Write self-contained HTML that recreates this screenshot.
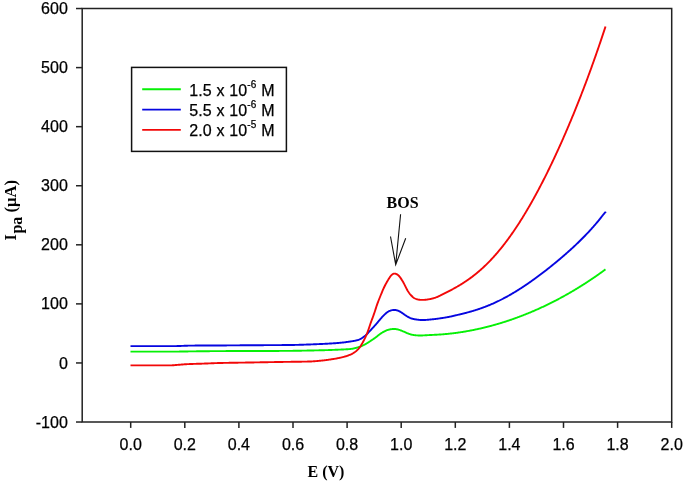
<!DOCTYPE html>
<html><head><meta charset="utf-8"><style>
html,body{margin:0;padding:0;background:#fff;}
svg{display:block;will-change:transform;}
.t{font-family:"Liberation Sans",sans-serif;font-size:16px;fill:#000;stroke:#000;stroke-width:0.25px;}
.sup{font-size:10px;}
.b{font-family:"Liberation Serif",serif;font-weight:bold;font-size:16px;fill:#000;}
</style></head><body>
<svg width="685" height="487" viewBox="0 0 685 487">
<path d="M82.2,8.6 H671.7 V422.0 H82.2 Z" fill="none" stroke="#222" stroke-width="1.5"/>
<line x1="76" y1="422.02" x2="82.2" y2="422.02" stroke="#222" stroke-width="1.5"/>
<text x="67.8" y="427.62" text-anchor="end" class="t">-100</text>
<line x1="76" y1="362.95" x2="82.2" y2="362.95" stroke="#222" stroke-width="1.5"/>
<text x="67.8" y="368.55" text-anchor="end" class="t">0</text>
<line x1="76" y1="303.88" x2="82.2" y2="303.88" stroke="#222" stroke-width="1.5"/>
<text x="67.8" y="309.48" text-anchor="end" class="t">100</text>
<line x1="76" y1="244.81" x2="82.2" y2="244.81" stroke="#222" stroke-width="1.5"/>
<text x="67.8" y="250.41" text-anchor="end" class="t">200</text>
<line x1="76" y1="185.74" x2="82.2" y2="185.74" stroke="#222" stroke-width="1.5"/>
<text x="67.8" y="191.34" text-anchor="end" class="t">300</text>
<line x1="76" y1="126.67" x2="82.2" y2="126.67" stroke="#222" stroke-width="1.5"/>
<text x="67.8" y="132.27" text-anchor="end" class="t">400</text>
<line x1="76" y1="67.60" x2="82.2" y2="67.60" stroke="#222" stroke-width="1.5"/>
<text x="67.8" y="73.20" text-anchor="end" class="t">500</text>
<line x1="76" y1="8.53" x2="82.2" y2="8.53" stroke="#222" stroke-width="1.5"/>
<text x="67.8" y="14.13" text-anchor="end" class="t">600</text>
<line x1="130.70" y1="422.0" x2="130.70" y2="427.9" stroke="#222" stroke-width="1.5"/>
<text x="130.70" y="450.2" text-anchor="middle" class="t">0.0</text>
<line x1="184.80" y1="422.0" x2="184.80" y2="427.9" stroke="#222" stroke-width="1.5"/>
<text x="184.80" y="450.2" text-anchor="middle" class="t">0.2</text>
<line x1="238.90" y1="422.0" x2="238.90" y2="427.9" stroke="#222" stroke-width="1.5"/>
<text x="238.90" y="450.2" text-anchor="middle" class="t">0.4</text>
<line x1="293.00" y1="422.0" x2="293.00" y2="427.9" stroke="#222" stroke-width="1.5"/>
<text x="293.00" y="450.2" text-anchor="middle" class="t">0.6</text>
<line x1="347.10" y1="422.0" x2="347.10" y2="427.9" stroke="#222" stroke-width="1.5"/>
<text x="347.10" y="450.2" text-anchor="middle" class="t">0.8</text>
<line x1="401.20" y1="422.0" x2="401.20" y2="427.9" stroke="#222" stroke-width="1.5"/>
<text x="401.20" y="450.2" text-anchor="middle" class="t">1.0</text>
<line x1="455.30" y1="422.0" x2="455.30" y2="427.9" stroke="#222" stroke-width="1.5"/>
<text x="455.30" y="450.2" text-anchor="middle" class="t">1.2</text>
<line x1="509.40" y1="422.0" x2="509.40" y2="427.9" stroke="#222" stroke-width="1.5"/>
<text x="509.40" y="450.2" text-anchor="middle" class="t">1.4</text>
<line x1="563.50" y1="422.0" x2="563.50" y2="427.9" stroke="#222" stroke-width="1.5"/>
<text x="563.50" y="450.2" text-anchor="middle" class="t">1.6</text>
<line x1="617.60" y1="422.0" x2="617.60" y2="427.9" stroke="#222" stroke-width="1.5"/>
<text x="617.60" y="450.2" text-anchor="middle" class="t">1.8</text>
<line x1="671.70" y1="422.0" x2="671.70" y2="427.9" stroke="#222" stroke-width="1.5"/>
<text x="671.70" y="450.2" text-anchor="middle" class="t">2.0</text>
<path d="M130.5,351.60L131.0,351.60L131.5,351.60L132.0,351.60L132.5,351.60L133.0,351.60L133.5,351.60L134.0,351.60L134.5,351.60L135.0,351.60L135.5,351.60L136.0,351.60L136.5,351.60L137.0,351.60L137.5,351.60L138.0,351.60L138.5,351.60L139.0,351.60L139.5,351.60L140.0,351.60L140.5,351.60L141.0,351.60L141.5,351.60L142.0,351.60L142.5,351.60L143.0,351.60L143.5,351.60L144.0,351.60L144.5,351.60L145.0,351.60L145.5,351.60L146.0,351.60L146.5,351.60L147.0,351.60L147.5,351.60L148.0,351.60L148.5,351.60L149.0,351.60L149.5,351.60L150.0,351.60L150.5,351.60L151.0,351.60L151.5,351.60L152.0,351.60L152.5,351.60L153.0,351.60L153.5,351.60L154.0,351.60L154.5,351.60L155.0,351.60L155.5,351.60L156.0,351.60L156.5,351.60L157.0,351.60L157.5,351.60L158.0,351.60L158.5,351.60L159.0,351.60L159.5,351.60L160.0,351.60L160.5,351.60L161.0,351.60L161.5,351.60L162.0,351.60L162.5,351.60L163.0,351.60L163.5,351.60L164.0,351.60L164.5,351.60L165.0,351.60L165.5,351.60L166.0,351.60L166.5,351.60L167.0,351.60L167.5,351.60L168.0,351.60L168.5,351.60L169.0,351.60L169.5,351.60L170.0,351.60L170.5,351.60L171.0,351.60L171.5,351.60L172.0,351.60L172.5,351.60L173.0,351.60L173.5,351.60L174.0,351.60L174.5,351.60L175.0,351.60L175.5,351.60L176.0,351.60L176.5,351.60L177.0,351.59L177.5,351.59L178.0,351.59L178.5,351.58L179.0,351.58L179.5,351.57L180.0,351.57L180.5,351.56L181.0,351.55L181.5,351.55L182.0,351.54L182.5,351.53L183.0,351.52L183.5,351.51L184.0,351.50L184.5,351.49L185.0,351.48L185.5,351.47L186.0,351.46L186.5,351.46L187.0,351.45L187.5,351.44L188.0,351.43L188.5,351.42L189.0,351.42L189.5,351.41L190.0,351.40L190.5,351.39L191.0,351.39L191.5,351.38L192.0,351.38L192.5,351.37L193.0,351.36L193.5,351.36L194.0,351.35L194.5,351.35L195.0,351.34L195.5,351.33L196.0,351.33L196.5,351.32L197.0,351.32L197.5,351.31L198.0,351.30L198.5,351.30L199.0,351.29L199.5,351.29L200.0,351.28L200.5,351.27L201.0,351.27L201.5,351.26L202.0,351.26L202.5,351.25L203.0,351.25L203.5,351.24L204.0,351.23L204.5,351.23L205.0,351.22L205.5,351.22L206.0,351.21L206.5,351.21L207.0,351.20L207.5,351.20L208.0,351.19L208.5,351.19L209.0,351.18L209.5,351.18L210.0,351.17L210.5,351.17L211.0,351.16L211.5,351.16L212.0,351.16L212.5,351.15L213.0,351.15L213.5,351.14L214.0,351.14L214.5,351.14L215.0,351.13L215.5,351.13L216.0,351.12L216.5,351.12L217.0,351.12L217.5,351.11L218.0,351.11L218.5,351.11L219.0,351.11L219.5,351.10L220.0,351.10L220.5,351.10L221.0,351.10L221.5,351.09L222.0,351.09L222.5,351.09L223.0,351.09L223.5,351.08L224.0,351.08L224.5,351.08L225.0,351.08L225.5,351.08L226.0,351.07L226.5,351.07L227.0,351.07L227.5,351.07L228.0,351.07L228.5,351.06L229.0,351.06L229.5,351.06L230.0,351.06L230.5,351.06L231.0,351.06L231.5,351.05L232.0,351.05L232.5,351.05L233.0,351.05L233.5,351.05L234.0,351.05L234.5,351.04L235.0,351.04L235.5,351.04L236.0,351.04L236.5,351.04L237.0,351.04L237.5,351.04L238.0,351.03L238.5,351.03L239.0,351.03L239.5,351.03L240.0,351.03L240.5,351.03L241.0,351.03L241.5,351.02L242.0,351.02L242.5,351.02L243.0,351.02L243.5,351.02L244.0,351.02L244.5,351.02L245.0,351.01L245.5,351.01L246.0,351.01L246.5,351.01L247.0,351.01L247.5,351.01L248.0,351.01L248.5,351.00L249.0,351.00L249.5,351.00L250.0,351.00L250.5,351.00L251.0,351.00L251.5,351.00L252.0,350.99L252.5,350.99L253.0,350.99L253.5,350.99L254.0,350.99L254.5,350.99L255.0,350.99L255.5,350.99L256.0,350.98L256.5,350.98L257.0,350.98L257.5,350.98L258.0,350.98L258.5,350.98L259.0,350.98L259.5,350.98L260.0,350.97L260.5,350.97L261.0,350.97L261.5,350.97L262.0,350.97L262.5,350.97L263.0,350.97L263.5,350.97L264.0,350.97L264.5,350.96L265.0,350.96L265.5,350.96L266.0,350.96L266.5,350.96L267.0,350.96L267.5,350.96L268.0,350.96L268.5,350.96L269.0,350.95L269.5,350.95L270.0,350.95L270.5,350.95L271.0,350.95L271.5,350.95L272.0,350.95L272.5,350.95L273.0,350.94L273.5,350.94L274.0,350.94L274.5,350.94L275.0,350.94L275.5,350.94L276.0,350.94L276.5,350.93L277.0,350.93L277.5,350.93L278.0,350.93L278.5,350.93L279.0,350.93L279.5,350.92L280.0,350.92L280.5,350.92L281.0,350.92L281.5,350.92L282.0,350.91L282.5,350.91L283.0,350.91L283.5,350.91L284.0,350.90L284.5,350.90L285.0,350.90L285.5,350.90L286.0,350.89L286.5,350.89L287.0,350.89L287.5,350.88L288.0,350.88L288.5,350.87L289.0,350.87L289.5,350.86L290.0,350.86L290.5,350.85L291.0,350.85L291.5,350.84L292.0,350.83L292.5,350.83L293.0,350.82L293.5,350.81L294.0,350.81L294.5,350.80L295.0,350.79L295.5,350.78L296.0,350.78L296.5,350.77L297.0,350.76L297.5,350.75L298.0,350.74L298.5,350.73L299.0,350.72L299.5,350.72L300.0,350.71L300.5,350.70L301.0,350.69L301.5,350.68L302.0,350.67L302.5,350.66L303.0,350.65L303.5,350.64L304.0,350.63L304.5,350.62L305.0,350.61L305.5,350.60L306.0,350.59L306.5,350.58L307.0,350.57L307.5,350.56L308.0,350.55L308.5,350.54L309.0,350.53L309.5,350.52L310.0,350.51L310.5,350.50L311.0,350.49L311.5,350.48L312.0,350.47L312.5,350.46L313.0,350.45L313.5,350.44L314.0,350.43L314.5,350.42L315.0,350.41L315.5,350.40L316.0,350.39L316.5,350.38L317.0,350.37L317.5,350.36L318.0,350.35L318.5,350.34L319.0,350.32L319.5,350.31L320.0,350.30L320.5,350.29L321.0,350.28L321.5,350.26L322.0,350.25L322.5,350.24L323.0,350.23L323.5,350.21L324.0,350.20L324.5,350.19L325.0,350.17L325.5,350.16L326.0,350.14L326.5,350.13L327.0,350.11L327.5,350.10L328.0,350.08L328.5,350.07L329.0,350.05L329.5,350.03L330.0,350.02L330.5,350.00L331.0,349.98L331.5,349.96L332.0,349.94L332.5,349.92L333.0,349.90L333.5,349.88L334.0,349.86L334.5,349.84L335.0,349.82L335.5,349.80L336.0,349.78L336.5,349.76L337.0,349.74L337.5,349.71L338.0,349.69L338.5,349.67L339.0,349.65L339.5,349.62L340.0,349.60L340.5,349.58L341.0,349.56L341.5,349.53L342.0,349.51L342.5,349.49L343.0,349.47L343.5,349.44L344.0,349.42L344.5,349.40L345.0,349.37L345.5,349.35L346.0,349.32L346.5,349.29L347.0,349.26L347.5,349.23L348.0,349.20L348.5,349.16L349.0,349.12L349.5,349.08L350.0,349.03L350.5,348.98L351.0,348.92L351.5,348.85L352.0,348.78L352.5,348.70L353.0,348.61L353.5,348.51L354.0,348.40L354.5,348.29L355.0,348.17L355.5,348.04L356.0,347.91L356.5,347.78L357.0,347.64L357.5,347.49L358.0,347.34L358.5,347.18L359.0,347.02L359.5,346.84L360.0,346.66L360.5,346.47L361.0,346.27L361.5,346.06L362.0,345.85L362.5,345.62L363.0,345.39L363.5,345.15L364.0,344.91L364.5,344.65L365.0,344.39L365.5,344.11L366.0,343.83L366.5,343.54L367.0,343.24L367.5,342.93L368.0,342.61L368.5,342.30L369.0,341.97L369.5,341.65L370.0,341.32L370.5,341.00L371.0,340.66L371.5,340.33L372.0,340.00L372.5,339.66L373.0,339.31L373.5,338.97L374.0,338.61L374.5,338.26L375.0,337.90L375.5,337.53L376.0,337.16L376.5,336.78L377.0,336.40L377.5,336.01L378.0,335.62L378.5,335.23L379.0,334.85L379.5,334.47L380.0,334.10L380.5,333.74L381.0,333.40L381.5,333.07L382.0,332.75L382.5,332.44L383.0,332.15L383.5,331.87L384.0,331.60L384.5,331.34L385.0,331.09L385.5,330.84L386.0,330.62L386.5,330.40L387.0,330.20L387.5,330.02L388.0,329.86L388.5,329.72L389.0,329.60L389.5,329.49L390.0,329.39L390.5,329.31L391.0,329.23L391.5,329.17L392.0,329.11L392.5,329.06L393.0,329.02L393.5,329.00L394.0,328.98L394.5,328.99L395.0,329.01L395.5,329.05L396.0,329.11L396.5,329.19L397.0,329.28L397.5,329.40L398.0,329.53L398.5,329.66L399.0,329.81L399.5,329.97L400.0,330.14L400.5,330.31L401.0,330.50L401.5,330.69L402.0,330.89L402.5,331.10L403.0,331.31L403.5,331.52L404.0,331.74L404.5,331.96L405.0,332.18L405.5,332.40L406.0,332.62L406.5,332.84L407.0,333.06L407.5,333.27L408.0,333.47L408.5,333.66L409.0,333.84L409.5,334.02L410.0,334.18L410.5,334.33L411.0,334.47L411.5,334.60L412.0,334.72L412.5,334.83L413.0,334.93L413.5,335.01L414.0,335.09L414.5,335.16L415.0,335.21L415.5,335.26L416.0,335.31L416.5,335.34L417.0,335.38L417.5,335.41L418.0,335.43L418.5,335.45L419.0,335.46L419.5,335.47L420.0,335.48L420.5,335.48L421.0,335.47L421.5,335.46L422.0,335.45L422.5,335.43L423.0,335.41L423.5,335.39L424.0,335.36L424.5,335.34L425.0,335.31L425.5,335.28L426.0,335.25L426.5,335.22L427.0,335.19L427.5,335.16L428.0,335.14L428.5,335.11L429.0,335.08L429.5,335.06L430.0,335.03L430.5,335.01L431.0,334.99L431.5,334.96L432.0,334.94L432.5,334.91L433.0,334.89L433.5,334.87L434.0,334.84L434.5,334.82L435.0,334.79L435.5,334.77L436.0,334.74L436.5,334.71L437.0,334.69L437.5,334.66L438.0,334.63L438.5,334.60L439.0,334.57L439.5,334.54L440.0,334.51L440.5,334.48L441.0,334.44L441.5,334.40L442.0,334.37L442.5,334.33L443.0,334.29L443.5,334.25L444.0,334.20L444.5,334.16L445.0,334.12L445.5,334.07L446.0,334.02L446.5,333.98L447.0,333.93L447.5,333.88L448.0,333.83L448.5,333.78L449.0,333.73L449.5,333.67L450.0,333.62L450.5,333.56L451.0,333.51L451.5,333.45L452.0,333.39L452.5,333.33L453.0,333.27L453.5,333.21L454.0,333.15L454.5,333.09L455.0,333.02L455.5,332.96L456.0,332.89L456.5,332.82L457.0,332.76L457.5,332.69L458.0,332.62L458.5,332.55L459.0,332.47L459.5,332.40L460.0,332.33L460.5,332.25L461.0,332.18L461.5,332.10L462.0,332.02L462.5,331.94L463.0,331.86L463.5,331.78L464.0,331.70L464.5,331.62L465.0,331.53L465.5,331.45L466.0,331.36L466.5,331.28L467.0,331.19L467.5,331.10L468.0,331.01L468.5,330.92L469.0,330.83L469.5,330.73L470.0,330.64L470.5,330.55L471.0,330.45L471.5,330.35L472.0,330.26L472.5,330.16L473.0,330.06L473.5,329.96L474.0,329.86L474.5,329.76L475.0,329.65L475.5,329.55L476.0,329.44L476.5,329.34L477.0,329.23L477.5,329.12L478.0,329.01L478.5,328.90L479.0,328.79L479.5,328.68L480.0,328.57L480.5,328.46L481.0,328.34L481.5,328.23L482.0,328.11L482.5,327.99L483.0,327.87L483.5,327.75L484.0,327.63L484.5,327.51L485.0,327.39L485.5,327.27L486.0,327.14L486.5,327.02L487.0,326.89L487.5,326.77L488.0,326.64L488.5,326.51L489.0,326.38L489.5,326.25L490.0,326.12L490.5,325.98L491.0,325.85L491.5,325.72L492.0,325.58L492.5,325.44L493.0,325.31L493.5,325.17L494.0,325.03L494.5,324.89L495.0,324.75L495.5,324.61L496.0,324.46L496.5,324.32L497.0,324.17L497.5,324.03L498.0,323.88L498.5,323.73L499.0,323.59L499.5,323.44L500.0,323.28L500.5,323.13L501.0,322.98L501.5,322.83L502.0,322.67L502.5,322.52L503.0,322.36L503.5,322.20L504.0,322.05L504.5,321.89L505.0,321.73L505.5,321.57L506.0,321.40L506.5,321.24L507.0,321.08L507.5,320.91L508.0,320.75L508.5,320.58L509.0,320.41L509.5,320.24L510.0,320.07L510.5,319.90L511.0,319.73L511.5,319.56L512.0,319.39L512.5,319.21L513.0,319.04L513.5,318.86L514.0,318.68L514.5,318.51L515.0,318.33L515.5,318.15L516.0,317.97L516.5,317.78L517.0,317.60L517.5,317.42L518.0,317.23L518.5,317.05L519.0,316.86L519.5,316.67L520.0,316.48L520.5,316.30L521.0,316.10L521.5,315.91L522.0,315.72L522.5,315.53L523.0,315.33L523.5,315.14L524.0,314.94L524.5,314.74L525.0,314.55L525.5,314.35L526.0,314.15L526.5,313.95L527.0,313.74L527.5,313.54L528.0,313.34L528.5,313.13L529.0,312.93L529.5,312.72L530.0,312.51L530.5,312.30L531.0,312.09L531.5,311.88L532.0,311.67L532.5,311.46L533.0,311.25L533.5,311.03L534.0,310.82L534.5,310.60L535.0,310.38L535.5,310.16L536.0,309.94L536.5,309.72L537.0,309.50L537.5,309.28L538.0,309.06L538.5,308.83L539.0,308.61L539.5,308.38L540.0,308.15L540.5,307.92L541.0,307.70L541.5,307.47L542.0,307.23L542.5,307.00L543.0,306.77L543.5,306.53L544.0,306.30L544.5,306.06L545.0,305.83L545.5,305.59L546.0,305.35L546.5,305.11L547.0,304.87L547.5,304.63L548.0,304.38L548.5,304.14L549.0,303.89L549.5,303.65L550.0,303.40L550.5,303.15L551.0,302.90L551.5,302.65L552.0,302.40L552.5,302.15L553.0,301.90L553.5,301.64L554.0,301.39L554.5,301.13L555.0,300.87L555.5,300.61L556.0,300.36L556.5,300.09L557.0,299.83L557.5,299.57L558.0,299.31L558.5,299.04L559.0,298.78L559.5,298.51L560.0,298.24L560.5,297.98L561.0,297.71L561.5,297.43L562.0,297.16L562.5,296.89L563.0,296.62L563.5,296.34L564.0,296.07L564.5,295.79L565.0,295.51L565.5,295.23L566.0,294.95L566.5,294.67L567.0,294.39L567.5,294.11L568.0,293.82L568.5,293.54L569.0,293.25L569.5,292.96L570.0,292.67L570.5,292.38L571.0,292.09L571.5,291.80L572.0,291.51L572.5,291.22L573.0,290.92L573.5,290.63L574.0,290.33L574.5,290.03L575.0,289.73L575.5,289.43L576.0,289.13L576.5,288.83L577.0,288.52L577.5,288.22L578.0,287.91L578.5,287.61L579.0,287.30L579.5,286.99L580.0,286.68L580.5,286.37L581.0,286.06L581.5,285.74L582.0,285.43L582.5,285.11L583.0,284.80L583.5,284.48L584.0,284.16L584.5,283.84L585.0,283.52L585.5,283.20L586.0,282.87L586.5,282.55L587.0,282.22L587.5,281.90L588.0,281.57L588.5,281.24L589.0,280.91L589.5,280.58L590.0,280.25L590.5,279.91L591.0,279.58L591.5,279.24L592.0,278.90L592.5,278.57L593.0,278.23L593.5,277.89L594.0,277.54L594.5,277.20L595.0,276.86L595.5,276.51L596.0,276.17L596.5,275.82L597.0,275.47L597.5,275.12L598.0,274.77L598.5,274.42L599.0,274.07L599.5,273.71L600.0,273.35L600.5,273.00L601.0,272.64L601.5,272.28L602.0,271.92L602.5,271.56L603.0,271.20L603.5,270.83L604.0,270.47L604.5,270.10L605.0,269.74L605.5,269.37" fill="none" stroke="#06f006" stroke-width="1.9" stroke-linejoin="round" stroke-linecap="butt"/>
<path d="M130.5,346.10L131.0,346.10L131.5,346.10L132.0,346.10L132.5,346.10L133.0,346.10L133.5,346.10L134.0,346.10L134.5,346.10L135.0,346.10L135.5,346.10L136.0,346.10L136.5,346.10L137.0,346.10L137.5,346.10L138.0,346.10L138.5,346.10L139.0,346.10L139.5,346.10L140.0,346.10L140.5,346.10L141.0,346.10L141.5,346.10L142.0,346.10L142.5,346.10L143.0,346.10L143.5,346.10L144.0,346.10L144.5,346.10L145.0,346.10L145.5,346.10L146.0,346.10L146.5,346.10L147.0,346.10L147.5,346.10L148.0,346.10L148.5,346.10L149.0,346.10L149.5,346.10L150.0,346.10L150.5,346.10L151.0,346.10L151.5,346.10L152.0,346.10L152.5,346.10L153.0,346.10L153.5,346.10L154.0,346.10L154.5,346.10L155.0,346.10L155.5,346.10L156.0,346.10L156.5,346.10L157.0,346.10L157.5,346.10L158.0,346.10L158.5,346.10L159.0,346.10L159.5,346.10L160.0,346.10L160.5,346.10L161.0,346.10L161.5,346.10L162.0,346.10L162.5,346.10L163.0,346.10L163.5,346.10L164.0,346.10L164.5,346.10L165.0,346.10L165.5,346.10L166.0,346.10L166.5,346.10L167.0,346.10L167.5,346.10L168.0,346.10L168.5,346.10L169.0,346.10L169.5,346.10L170.0,346.10L170.5,346.10L171.0,346.10L171.5,346.10L172.0,346.10L172.5,346.10L173.0,346.10L173.5,346.10L174.0,346.10L174.5,346.10L175.0,346.09L175.5,346.09L176.0,346.09L176.5,346.08L177.0,346.07L177.5,346.06L178.0,346.05L178.5,346.03L179.0,346.02L179.5,346.00L180.0,345.98L180.5,345.96L181.0,345.94L181.5,345.92L182.0,345.90L182.5,345.88L183.0,345.86L183.5,345.84L184.0,345.81L184.5,345.79L185.0,345.77L185.5,345.75L186.0,345.73L186.5,345.71L187.0,345.69L187.5,345.68L188.0,345.66L188.5,345.65L189.0,345.63L189.5,345.62L190.0,345.62L190.5,345.61L191.0,345.60L191.5,345.60L192.0,345.59L192.5,345.59L193.0,345.58L193.5,345.58L194.0,345.58L194.5,345.58L195.0,345.57L195.5,345.57L196.0,345.57L196.5,345.57L197.0,345.56L197.5,345.56L198.0,345.56L198.5,345.56L199.0,345.56L199.5,345.55L200.0,345.55L200.5,345.55L201.0,345.55L201.5,345.55L202.0,345.54L202.5,345.54L203.0,345.54L203.5,345.54L204.0,345.54L204.5,345.54L205.0,345.54L205.5,345.53L206.0,345.53L206.5,345.53L207.0,345.53L207.5,345.53L208.0,345.53L208.5,345.53L209.0,345.52L209.5,345.52L210.0,345.52L210.5,345.52L211.0,345.52L211.5,345.52L212.0,345.51L212.5,345.51L213.0,345.51L213.5,345.51L214.0,345.50L214.5,345.50L215.0,345.50L215.5,345.50L216.0,345.49L216.5,345.49L217.0,345.49L217.5,345.49L218.0,345.48L218.5,345.48L219.0,345.48L219.5,345.47L220.0,345.47L220.5,345.47L221.0,345.46L221.5,345.46L222.0,345.46L222.5,345.45L223.0,345.45L223.5,345.45L224.0,345.44L224.5,345.44L225.0,345.44L225.5,345.43L226.0,345.43L226.5,345.43L227.0,345.42L227.5,345.42L228.0,345.42L228.5,345.41L229.0,345.41L229.5,345.40L230.0,345.40L230.5,345.40L231.0,345.39L231.5,345.39L232.0,345.39L232.5,345.38L233.0,345.38L233.5,345.37L234.0,345.37L234.5,345.37L235.0,345.36L235.5,345.36L236.0,345.35L236.5,345.35L237.0,345.35L237.5,345.34L238.0,345.34L238.5,345.33L239.0,345.33L239.5,345.33L240.0,345.32L240.5,345.32L241.0,345.32L241.5,345.31L242.0,345.31L242.5,345.30L243.0,345.30L243.5,345.30L244.0,345.29L244.5,345.29L245.0,345.29L245.5,345.28L246.0,345.28L246.5,345.27L247.0,345.27L247.5,345.27L248.0,345.26L248.5,345.26L249.0,345.26L249.5,345.25L250.0,345.25L250.5,345.25L251.0,345.24L251.5,345.24L252.0,345.24L252.5,345.23L253.0,345.23L253.5,345.23L254.0,345.23L254.5,345.22L255.0,345.22L255.5,345.22L256.0,345.21L256.5,345.21L257.0,345.21L257.5,345.21L258.0,345.20L258.5,345.20L259.0,345.20L259.5,345.20L260.0,345.19L260.5,345.19L261.0,345.19L261.5,345.19L262.0,345.18L262.5,345.18L263.0,345.18L263.5,345.18L264.0,345.17L264.5,345.17L265.0,345.17L265.5,345.17L266.0,345.17L266.5,345.16L267.0,345.16L267.5,345.16L268.0,345.16L268.5,345.15L269.0,345.15L269.5,345.15L270.0,345.15L270.5,345.14L271.0,345.14L271.5,345.14L272.0,345.14L272.5,345.13L273.0,345.13L273.5,345.13L274.0,345.12L274.5,345.12L275.0,345.12L275.5,345.12L276.0,345.11L276.5,345.11L277.0,345.11L277.5,345.10L278.0,345.10L278.5,345.10L279.0,345.09L279.5,345.09L280.0,345.09L280.5,345.08L281.0,345.08L281.5,345.08L282.0,345.07L282.5,345.07L283.0,345.06L283.5,345.06L284.0,345.06L284.5,345.05L285.0,345.05L285.5,345.04L286.0,345.04L286.5,345.03L287.0,345.03L287.5,345.03L288.0,345.02L288.5,345.02L289.0,345.01L289.5,345.00L290.0,345.00L290.5,344.99L291.0,344.99L291.5,344.98L292.0,344.97L292.5,344.96L293.0,344.96L293.5,344.95L294.0,344.94L294.5,344.93L295.0,344.92L295.5,344.91L296.0,344.89L296.5,344.88L297.0,344.87L297.5,344.86L298.0,344.84L298.5,344.83L299.0,344.82L299.5,344.80L300.0,344.79L300.5,344.77L301.0,344.76L301.5,344.74L302.0,344.73L302.5,344.71L303.0,344.70L303.5,344.68L304.0,344.66L304.5,344.65L305.0,344.63L305.5,344.61L306.0,344.59L306.5,344.57L307.0,344.56L307.5,344.54L308.0,344.52L308.5,344.50L309.0,344.48L309.5,344.46L310.0,344.44L310.5,344.43L311.0,344.41L311.5,344.39L312.0,344.37L312.5,344.35L313.0,344.33L313.5,344.31L314.0,344.29L314.5,344.27L315.0,344.25L315.5,344.23L316.0,344.21L316.5,344.19L317.0,344.17L317.5,344.15L318.0,344.13L318.5,344.11L319.0,344.09L319.5,344.07L320.0,344.05L320.5,344.02L321.0,344.00L321.5,343.98L322.0,343.96L322.5,343.93L323.0,343.91L323.5,343.88L324.0,343.86L324.5,343.83L325.0,343.81L325.5,343.78L326.0,343.76L326.5,343.73L327.0,343.70L327.5,343.68L328.0,343.65L328.5,343.62L329.0,343.59L329.5,343.56L330.0,343.53L330.5,343.51L331.0,343.47L331.5,343.44L332.0,343.41L332.5,343.38L333.0,343.35L333.5,343.32L334.0,343.28L334.5,343.25L335.0,343.21L335.5,343.18L336.0,343.14L336.5,343.10L337.0,343.06L337.5,343.02L338.0,342.98L338.5,342.94L339.0,342.89L339.5,342.85L340.0,342.80L340.5,342.76L341.0,342.71L341.5,342.66L342.0,342.61L342.5,342.55L343.0,342.50L343.5,342.44L344.0,342.38L344.5,342.32L345.0,342.26L345.5,342.20L346.0,342.13L346.5,342.06L347.0,341.99L347.5,341.92L348.0,341.85L348.5,341.78L349.0,341.71L349.5,341.63L350.0,341.55L350.5,341.48L351.0,341.40L351.5,341.32L352.0,341.24L352.5,341.16L353.0,341.08L353.5,341.00L354.0,340.92L354.5,340.83L355.0,340.74L355.5,340.64L356.0,340.53L356.5,340.42L357.0,340.29L357.5,340.16L358.0,340.01L358.5,339.83L359.0,339.64L359.5,339.43L360.0,339.20L360.5,338.94L361.0,338.66L361.5,338.36L362.0,338.04L362.5,337.71L363.0,337.36L363.5,336.99L364.0,336.61L364.5,336.22L365.0,335.81L365.5,335.38L366.0,334.93L366.5,334.46L367.0,333.97L367.5,333.47L368.0,332.96L368.5,332.44L369.0,331.91L369.5,331.38L370.0,330.85L370.5,330.31L371.0,329.78L371.5,329.24L372.0,328.71L372.5,328.17L373.0,327.63L373.5,327.08L374.0,326.54L374.5,325.98L375.0,325.42L375.5,324.86L376.0,324.29L376.5,323.71L377.0,323.12L377.5,322.53L378.0,321.93L378.5,321.32L379.0,320.72L379.5,320.12L380.0,319.52L380.5,318.93L381.0,318.35L381.5,317.78L382.0,317.22L382.5,316.68L383.0,316.14L383.5,315.62L384.0,315.12L384.5,314.63L385.0,314.15L385.5,313.70L386.0,313.26L386.5,312.84L387.0,312.45L387.5,312.09L388.0,311.77L388.5,311.47L389.0,311.21L389.5,310.98L390.0,310.78L390.5,310.61L391.0,310.45L391.5,310.31L392.0,310.19L392.5,310.09L393.0,310.02L393.5,309.97L394.0,309.94L394.5,309.94L395.0,309.97L395.5,310.02L396.0,310.10L396.5,310.21L397.0,310.33L397.5,310.49L398.0,310.66L398.5,310.85L399.0,311.07L399.5,311.32L400.0,311.59L400.5,311.89L401.0,312.20L401.5,312.54L402.0,312.88L402.5,313.23L403.0,313.59L403.5,313.94L404.0,314.29L404.5,314.64L405.0,314.99L405.5,315.32L406.0,315.66L406.5,315.98L407.0,316.30L407.5,316.60L408.0,316.89L408.5,317.18L409.0,317.44L409.5,317.69L410.0,317.93L410.5,318.14L411.0,318.33L411.5,318.50L412.0,318.66L412.5,318.79L413.0,318.92L413.5,319.03L414.0,319.13L414.5,319.23L415.0,319.31L415.5,319.39L416.0,319.47L416.5,319.54L417.0,319.61L417.5,319.68L418.0,319.74L418.5,319.80L419.0,319.86L419.5,319.91L420.0,319.95L420.5,319.99L421.0,320.02L421.5,320.04L422.0,320.06L422.5,320.06L423.0,320.06L423.5,320.05L424.0,320.03L424.5,320.01L425.0,319.98L425.5,319.95L426.0,319.91L426.5,319.87L427.0,319.83L427.5,319.79L428.0,319.74L428.5,319.69L429.0,319.65L429.5,319.60L430.0,319.55L430.5,319.50L431.0,319.45L431.5,319.40L432.0,319.35L432.5,319.30L433.0,319.24L433.5,319.19L434.0,319.13L434.5,319.07L435.0,319.02L435.5,318.96L436.0,318.89L436.5,318.83L437.0,318.77L437.5,318.70L438.0,318.64L438.5,318.57L439.0,318.50L439.5,318.43L440.0,318.36L440.5,318.28L441.0,318.21L441.5,318.13L442.0,318.06L442.5,317.98L443.0,317.90L443.5,317.82L444.0,317.74L444.5,317.66L445.0,317.57L445.5,317.49L446.0,317.40L446.5,317.32L447.0,317.23L447.5,317.14L448.0,317.05L448.5,316.96L449.0,316.86L449.5,316.77L450.0,316.67L450.5,316.56L451.0,316.46L451.5,316.35L452.0,316.23L452.5,316.12L453.0,316.00L453.5,315.88L454.0,315.76L454.5,315.64L455.0,315.53L455.5,315.41L456.0,315.29L456.5,315.17L457.0,315.06L457.5,314.94L458.0,314.82L458.5,314.70L459.0,314.58L459.5,314.46L460.0,314.34L460.5,314.22L461.0,314.10L461.5,313.98L462.0,313.86L462.5,313.73L463.0,313.61L463.5,313.48L464.0,313.36L464.5,313.23L465.0,313.10L465.5,312.97L466.0,312.84L466.5,312.71L467.0,312.58L467.5,312.45L468.0,312.31L468.5,312.18L469.0,312.04L469.5,311.90L470.0,311.76L470.5,311.62L471.0,311.48L471.5,311.33L472.0,311.19L472.5,311.04L473.0,310.89L473.5,310.74L474.0,310.59L474.5,310.44L475.0,310.28L475.5,310.13L476.0,309.97L476.5,309.81L477.0,309.65L477.5,309.49L478.0,309.32L478.5,309.16L479.0,308.99L479.5,308.82L480.0,308.65L480.5,308.47L481.0,308.30L481.5,308.12L482.0,307.94L482.5,307.76L483.0,307.58L483.5,307.40L484.0,307.21L484.5,307.02L485.0,306.83L485.5,306.64L486.0,306.45L486.5,306.25L487.0,306.06L487.5,305.86L488.0,305.66L488.5,305.45L489.0,305.25L489.5,305.04L490.0,304.83L490.5,304.62L491.0,304.41L491.5,304.20L492.0,303.98L492.5,303.76L493.0,303.54L493.5,303.32L494.0,303.09L494.5,302.87L495.0,302.64L495.5,302.41L496.0,302.18L496.5,301.94L497.0,301.71L497.5,301.47L498.0,301.23L498.5,300.99L499.0,300.74L499.5,300.50L500.0,300.25L500.5,300.00L501.0,299.75L501.5,299.49L502.0,299.24L502.5,298.98L503.0,298.72L503.5,298.46L504.0,298.20L504.5,297.93L505.0,297.66L505.5,297.39L506.0,297.12L506.5,296.85L507.0,296.58L507.5,296.30L508.0,296.02L508.5,295.74L509.0,295.46L509.5,295.18L510.0,294.89L510.5,294.61L511.0,294.32L511.5,294.03L512.0,293.73L512.5,293.44L513.0,293.14L513.5,292.85L514.0,292.55L514.5,292.25L515.0,291.94L515.5,291.64L516.0,291.33L516.5,291.02L517.0,290.71L517.5,290.40L518.0,290.09L518.5,289.78L519.0,289.46L519.5,289.14L520.0,288.82L520.5,288.50L521.0,288.18L521.5,287.86L522.0,287.53L522.5,287.20L523.0,286.87L523.5,286.54L524.0,286.21L524.5,285.88L525.0,285.54L525.5,285.21L526.0,284.87L526.5,284.53L527.0,284.19L527.5,283.85L528.0,283.51L528.5,283.16L529.0,282.81L529.5,282.47L530.0,282.12L530.5,281.77L531.0,281.42L531.5,281.06L532.0,280.71L532.5,280.35L533.0,280.00L533.5,279.64L534.0,279.28L534.5,278.92L535.0,278.55L535.5,278.19L536.0,277.83L536.5,277.46L537.0,277.09L537.5,276.72L538.0,276.35L538.5,275.98L539.0,275.61L539.5,275.24L540.0,274.86L540.5,274.49L541.0,274.11L541.5,273.73L542.0,273.35L542.5,272.97L543.0,272.59L543.5,272.21L544.0,271.82L544.5,271.44L545.0,271.05L545.5,270.66L546.0,270.27L546.5,269.88L547.0,269.49L547.5,269.10L548.0,268.71L548.5,268.31L549.0,267.91L549.5,267.52L550.0,267.12L550.5,266.72L551.0,266.32L551.5,265.92L552.0,265.51L552.5,265.11L553.0,264.71L553.5,264.30L554.0,263.89L554.5,263.48L555.0,263.07L555.5,262.66L556.0,262.25L556.5,261.84L557.0,261.42L557.5,261.00L558.0,260.59L558.5,260.17L559.0,259.75L559.5,259.33L560.0,258.91L560.5,258.48L561.0,258.06L561.5,257.63L562.0,257.20L562.5,256.77L563.0,256.34L563.5,255.91L564.0,255.48L564.5,255.05L565.0,254.61L565.5,254.17L566.0,253.73L566.5,253.29L567.0,252.85L567.5,252.41L568.0,251.97L568.5,251.52L569.0,251.07L569.5,250.62L570.0,250.17L570.5,249.72L571.0,249.26L571.5,248.81L572.0,248.35L572.5,247.89L573.0,247.43L573.5,246.97L574.0,246.50L574.5,246.04L575.0,245.57L575.5,245.10L576.0,244.63L576.5,244.15L577.0,243.68L577.5,243.20L578.0,242.72L578.5,242.23L579.0,241.75L579.5,241.26L580.0,240.77L580.5,240.28L581.0,239.79L581.5,239.29L582.0,238.79L582.5,238.29L583.0,237.79L583.5,237.28L584.0,236.77L584.5,236.26L585.0,235.75L585.5,235.23L586.0,234.71L586.5,234.19L587.0,233.67L587.5,233.14L588.0,232.61L588.5,232.07L589.0,231.54L589.5,231.00L590.0,230.45L590.5,229.91L591.0,229.36L591.5,228.80L592.0,228.24L592.5,227.68L593.0,227.12L593.5,226.55L594.0,225.98L594.5,225.41L595.0,224.83L595.5,224.24L596.0,223.66L596.5,223.07L597.0,222.47L597.5,221.87L598.0,221.27L598.5,220.66L599.0,220.05L599.5,219.43L600.0,218.81L600.5,218.18L601.0,217.55L601.5,216.92L602.0,216.28L602.5,215.64L603.0,215.00L603.5,214.37L604.0,213.76L604.5,213.18L605.0,212.63L605.5,212.14L605.7,211.70" fill="none" stroke="#0606e0" stroke-width="1.9" stroke-linejoin="round" stroke-linecap="butt"/>
<path d="M130.5,365.40L131.0,365.40L131.5,365.40L132.0,365.40L132.5,365.40L133.0,365.40L133.5,365.40L134.0,365.40L134.5,365.40L135.0,365.40L135.5,365.40L136.0,365.40L136.5,365.40L137.0,365.40L137.5,365.40L138.0,365.40L138.5,365.40L139.0,365.40L139.5,365.40L140.0,365.40L140.5,365.40L141.0,365.40L141.5,365.40L142.0,365.40L142.5,365.40L143.0,365.40L143.5,365.40L144.0,365.40L144.5,365.40L145.0,365.40L145.5,365.40L146.0,365.40L146.5,365.40L147.0,365.40L147.5,365.40L148.0,365.40L148.5,365.40L149.0,365.40L149.5,365.40L150.0,365.40L150.5,365.40L151.0,365.40L151.5,365.40L152.0,365.40L152.5,365.40L153.0,365.40L153.5,365.40L154.0,365.40L154.5,365.40L155.0,365.40L155.5,365.40L156.0,365.40L156.5,365.40L157.0,365.40L157.5,365.40L158.0,365.40L158.5,365.40L159.0,365.40L159.5,365.40L160.0,365.40L160.5,365.40L161.0,365.40L161.5,365.40L162.0,365.40L162.5,365.40L163.0,365.40L163.5,365.40L164.0,365.40L164.5,365.40L165.0,365.40L165.5,365.40L166.0,365.40L166.5,365.40L167.0,365.40L167.5,365.40L168.0,365.40L168.5,365.40L169.0,365.40L169.5,365.40L170.0,365.39L170.5,365.39L171.0,365.37L171.5,365.35L172.0,365.33L172.5,365.29L173.0,365.26L173.5,365.22L174.0,365.18L174.5,365.13L175.0,365.09L175.5,365.05L176.0,365.00L176.5,364.96L177.0,364.92L177.5,364.88L178.0,364.84L178.5,364.80L179.0,364.76L179.5,364.72L180.0,364.68L180.5,364.64L181.0,364.60L181.5,364.56L182.0,364.52L182.5,364.48L183.0,364.44L183.5,364.40L184.0,364.36L184.5,364.32L185.0,364.28L185.5,364.25L186.0,364.22L186.5,364.19L187.0,364.17L187.5,364.14L188.0,364.12L188.5,364.10L189.0,364.08L189.5,364.06L190.0,364.04L190.5,364.02L191.0,364.00L191.5,363.98L192.0,363.97L192.5,363.95L193.0,363.93L193.5,363.92L194.0,363.90L194.5,363.88L195.0,363.87L195.5,363.85L196.0,363.84L196.5,363.82L197.0,363.81L197.5,363.80L198.0,363.78L198.5,363.77L199.0,363.75L199.5,363.74L200.0,363.72L200.5,363.71L201.0,363.69L201.5,363.68L202.0,363.66L202.5,363.64L203.0,363.63L203.5,363.61L204.0,363.59L204.5,363.57L205.0,363.56L205.5,363.54L206.0,363.52L206.5,363.50L207.0,363.48L207.5,363.46L208.0,363.44L208.5,363.42L209.0,363.40L209.5,363.38L210.0,363.35L210.5,363.33L211.0,363.31L211.5,363.29L212.0,363.27L212.5,363.25L213.0,363.23L213.5,363.21L214.0,363.19L214.5,363.17L215.0,363.16L215.5,363.14L216.0,363.12L216.5,363.10L217.0,363.09L217.5,363.07L218.0,363.06L218.5,363.04L219.0,363.03L219.5,363.01L220.0,363.00L220.5,362.99L221.0,362.98L221.5,362.97L222.0,362.95L222.5,362.94L223.0,362.93L223.5,362.92L224.0,362.91L224.5,362.90L225.0,362.89L225.5,362.88L226.0,362.87L226.5,362.86L227.0,362.85L227.5,362.85L228.0,362.84L228.5,362.83L229.0,362.82L229.5,362.81L230.0,362.80L230.5,362.79L231.0,362.79L231.5,362.78L232.0,362.77L232.5,362.76L233.0,362.75L233.5,362.75L234.0,362.74L234.5,362.73L235.0,362.72L235.5,362.72L236.0,362.71L236.5,362.70L237.0,362.69L237.5,362.69L238.0,362.68L238.5,362.67L239.0,362.67L239.5,362.66L240.0,362.65L240.5,362.64L241.0,362.64L241.5,362.63L242.0,362.62L242.5,362.62L243.0,362.61L243.5,362.60L244.0,362.59L244.5,362.59L245.0,362.58L245.5,362.57L246.0,362.56L246.5,362.56L247.0,362.55L247.5,362.54L248.0,362.53L248.5,362.52L249.0,362.52L249.5,362.51L250.0,362.50L250.5,362.49L251.0,362.48L251.5,362.47L252.0,362.47L252.5,362.46L253.0,362.45L253.5,362.44L254.0,362.43L254.5,362.42L255.0,362.41L255.5,362.40L256.0,362.40L256.5,362.39L257.0,362.38L257.5,362.37L258.0,362.36L258.5,362.35L259.0,362.34L259.5,362.33L260.0,362.32L260.5,362.32L261.0,362.31L261.5,362.30L262.0,362.29L262.5,362.28L263.0,362.27L263.5,362.26L264.0,362.25L264.5,362.24L265.0,362.23L265.5,362.23L266.0,362.22L266.5,362.21L267.0,362.20L267.5,362.19L268.0,362.18L268.5,362.17L269.0,362.16L269.5,362.15L270.0,362.15L270.5,362.14L271.0,362.13L271.5,362.12L272.0,362.11L272.5,362.10L273.0,362.09L273.5,362.08L274.0,362.08L274.5,362.07L275.0,362.06L275.5,362.05L276.0,362.04L276.5,362.03L277.0,362.03L277.5,362.02L278.0,362.01L278.5,362.00L279.0,361.99L279.5,361.98L280.0,361.98L280.5,361.97L281.0,361.96L281.5,361.95L282.0,361.95L282.5,361.94L283.0,361.93L283.5,361.92L284.0,361.91L284.5,361.91L285.0,361.90L285.5,361.89L286.0,361.89L286.5,361.88L287.0,361.87L287.5,361.87L288.0,361.86L288.5,361.85L289.0,361.85L289.5,361.84L290.0,361.84L290.5,361.83L291.0,361.82L291.5,361.82L292.0,361.81L292.5,361.81L293.0,361.80L293.5,361.79L294.0,361.79L294.5,361.78L295.0,361.78L295.5,361.77L296.0,361.76L296.5,361.76L297.0,361.75L297.5,361.74L298.0,361.74L298.5,361.73L299.0,361.72L299.5,361.71L300.0,361.71L300.5,361.70L301.0,361.69L301.5,361.68L302.0,361.67L302.5,361.67L303.0,361.66L303.5,361.65L304.0,361.64L304.5,361.63L305.0,361.62L305.5,361.61L306.0,361.60L306.5,361.59L307.0,361.58L307.5,361.57L308.0,361.56L308.5,361.54L309.0,361.53L309.5,361.51L310.0,361.50L310.5,361.48L311.0,361.46L311.5,361.43L312.0,361.41L312.5,361.38L313.0,361.35L313.5,361.32L314.0,361.29L314.5,361.25L315.0,361.21L315.5,361.17L316.0,361.13L316.5,361.09L317.0,361.05L317.5,361.00L318.0,360.96L318.5,360.91L319.0,360.86L319.5,360.81L320.0,360.77L320.5,360.72L321.0,360.67L321.5,360.62L322.0,360.57L322.5,360.51L323.0,360.46L323.5,360.41L324.0,360.35L324.5,360.29L325.0,360.23L325.5,360.16L326.0,360.10L326.5,360.03L327.0,359.97L327.5,359.90L328.0,359.83L328.5,359.76L329.0,359.68L329.5,359.61L330.0,359.53L330.5,359.46L331.0,359.38L331.5,359.30L332.0,359.22L332.5,359.14L333.0,359.06L333.5,358.98L334.0,358.90L334.5,358.82L335.0,358.73L335.5,358.65L336.0,358.56L336.5,358.47L337.0,358.38L337.5,358.29L338.0,358.19L338.5,358.09L339.0,357.99L339.5,357.89L340.0,357.78L340.5,357.67L341.0,357.56L341.5,357.44L342.0,357.32L342.5,357.20L343.0,357.07L343.5,356.94L344.0,356.81L344.5,356.67L345.0,356.53L345.5,356.38L346.0,356.23L346.5,356.07L347.0,355.91L347.5,355.74L348.0,355.56L348.5,355.38L349.0,355.19L349.5,354.99L350.0,354.78L350.5,354.56L351.0,354.33L351.5,354.08L352.0,353.83L352.5,353.55L353.0,353.26L353.5,352.96L354.0,352.63L354.5,352.29L355.0,351.93L355.5,351.55L356.0,351.15L356.5,350.73L357.0,350.29L357.5,349.82L358.0,349.33L358.5,348.79L359.0,348.21L359.5,347.59L360.0,346.91L360.5,346.19L361.0,345.42L361.5,344.61L362.0,343.77L362.5,342.89L363.0,341.99L363.5,341.07L364.0,340.11L364.5,339.13L365.0,338.11L365.5,337.04L366.0,335.93L366.5,334.76L367.0,333.54L367.5,332.25L368.0,330.91L368.5,329.49L369.0,328.02L369.5,326.52L370.0,325.02L370.5,323.55L371.0,322.12L371.5,320.74L372.0,319.39L372.5,318.06L373.0,316.72L373.5,315.35L374.0,313.93L374.5,312.46L375.0,310.95L375.5,309.40L376.0,307.85L376.5,306.32L377.0,304.85L377.5,303.43L378.0,302.07L378.5,300.77L379.0,299.49L379.5,298.24L380.0,296.99L380.5,295.75L381.0,294.51L381.5,293.28L382.0,292.06L382.5,290.86L383.0,289.70L383.5,288.58L384.0,287.50L384.5,286.47L385.0,285.48L385.5,284.52L386.0,283.60L386.5,282.70L387.0,281.83L387.5,280.97L388.0,280.13L388.5,279.30L389.0,278.48L389.5,277.68L390.0,276.93L390.5,276.24L391.0,275.63L391.5,275.10L392.0,274.65L392.5,274.28L393.0,273.98L393.5,273.76L394.0,273.63L394.5,273.58L395.0,273.62L395.5,273.72L396.0,273.89L396.5,274.11L397.0,274.37L397.5,274.68L398.0,275.04L398.5,275.47L399.0,275.97L399.5,276.55L400.0,277.19L400.5,277.87L401.0,278.60L401.5,279.36L402.0,280.15L402.5,280.97L403.0,281.83L403.5,282.72L404.0,283.64L404.5,284.58L405.0,285.56L405.5,286.56L406.0,287.57L406.5,288.58L407.0,289.54L407.5,290.46L408.0,291.30L408.5,292.08L409.0,292.80L409.5,293.47L410.0,294.10L410.5,294.69L411.0,295.25L411.5,295.79L412.0,296.29L412.5,296.77L413.0,297.21L413.5,297.60L414.0,297.94L414.5,298.24L415.0,298.51L415.5,298.74L416.0,298.95L416.5,299.13L417.0,299.29L417.5,299.42L418.0,299.53L418.5,299.61L419.0,299.69L419.5,299.75L420.0,299.81L420.5,299.84L421.0,299.87L421.5,299.90L422.0,299.91L422.5,299.92L423.0,299.91L423.5,299.89L424.0,299.87L424.5,299.83L425.0,299.79L425.5,299.74L426.0,299.69L426.5,299.63L427.0,299.57L427.5,299.50L428.0,299.42L428.5,299.35L429.0,299.27L429.5,299.18L430.0,299.09L430.5,298.99L431.0,298.88L431.5,298.77L432.0,298.65L432.5,298.53L433.0,298.40L433.5,298.26L434.0,298.11L434.5,297.95L435.0,297.78L435.5,297.60L436.0,297.42L436.5,297.22L437.0,297.02L437.5,296.81L438.0,296.59L438.5,296.37L439.0,296.14L439.5,295.90L440.0,295.67L440.5,295.42L441.0,295.18L441.5,294.93L442.0,294.68L442.5,294.43L443.0,294.18L443.5,293.93L444.0,293.68L444.5,293.43L445.0,293.17L445.5,292.92L446.0,292.67L446.5,292.41L447.0,292.16L447.5,291.90L448.0,291.65L448.5,291.39L449.0,291.13L449.5,290.87L450.0,290.61L450.5,290.34L451.0,290.08L451.5,289.81L452.0,289.54L452.5,289.27L453.0,289.00L453.5,288.73L454.0,288.46L454.5,288.18L455.0,287.90L455.5,287.62L456.0,287.34L456.5,287.05L457.0,286.76L457.5,286.48L458.0,286.18L458.5,285.89L459.0,285.59L459.5,285.29L460.0,284.99L460.5,284.69L461.0,284.38L461.5,284.07L462.0,283.76L462.5,283.45L463.0,283.13L463.5,282.81L464.0,282.49L464.5,282.16L465.0,281.83L465.5,281.50L466.0,281.16L466.5,280.83L467.0,280.48L467.5,280.14L468.0,279.79L468.5,279.44L469.0,279.08L469.5,278.73L470.0,278.37L470.5,278.00L471.0,277.63L471.5,277.26L472.0,276.89L472.5,276.51L473.0,276.13L473.5,275.74L474.0,275.35L474.5,274.96L475.0,274.56L475.5,274.16L476.0,273.75L476.5,273.35L477.0,272.93L477.5,272.52L478.0,272.10L478.5,271.67L479.0,271.25L479.5,270.82L480.0,270.38L480.5,269.94L481.0,269.50L481.5,269.05L482.0,268.60L482.5,268.14L483.0,267.68L483.5,267.22L484.0,266.75L484.5,266.28L485.0,265.80L485.5,265.32L486.0,264.84L486.5,264.35L487.0,263.86L487.5,263.36L488.0,262.86L488.5,262.35L489.0,261.84L489.5,261.33L490.0,260.81L490.5,260.29L491.0,259.76L491.5,259.23L492.0,258.69L492.5,258.15L493.0,257.61L493.5,257.06L494.0,256.50L494.5,255.95L495.0,255.38L495.5,254.82L496.0,254.25L496.5,253.67L497.0,253.09L497.5,252.51L498.0,251.92L498.5,251.32L499.0,250.73L499.5,250.13L500.0,249.52L500.5,248.91L501.0,248.29L501.5,247.67L502.0,247.05L502.5,246.42L503.0,245.79L503.5,245.15L504.0,244.51L504.5,243.86L505.0,243.21L505.5,242.55L506.0,241.89L506.5,241.23L507.0,240.56L507.5,239.89L508.0,239.21L508.5,238.53L509.0,237.84L509.5,237.15L510.0,236.46L510.5,235.76L511.0,235.05L511.5,234.34L512.0,233.63L512.5,232.91L513.0,232.19L513.5,231.46L514.0,230.73L514.5,230.00L515.0,229.26L515.5,228.51L516.0,227.76L516.5,227.01L517.0,226.25L517.5,225.49L518.0,224.73L518.5,223.96L519.0,223.18L519.5,222.40L520.0,221.62L520.5,220.83L521.0,220.04L521.5,219.24L522.0,218.44L522.5,217.64L523.0,216.83L523.5,216.01L524.0,215.19L524.5,214.37L525.0,213.55L525.5,212.72L526.0,211.88L526.5,211.04L527.0,210.20L527.5,209.35L528.0,208.50L528.5,207.64L529.0,206.78L529.5,205.92L530.0,205.05L530.5,204.17L531.0,203.30L531.5,202.42L532.0,201.53L532.5,200.64L533.0,199.75L533.5,198.85L534.0,197.95L534.5,197.04L535.0,196.13L535.5,195.22L536.0,194.30L536.5,193.37L537.0,192.45L537.5,191.52L538.0,190.58L538.5,189.64L539.0,188.70L539.5,187.75L540.0,186.80L540.5,185.85L541.0,184.89L541.5,183.92L542.0,182.96L542.5,181.99L543.0,181.01L543.5,180.03L544.0,179.05L544.5,178.06L545.0,177.07L545.5,176.07L546.0,175.07L546.5,174.07L547.0,173.06L547.5,172.05L548.0,171.04L548.5,170.02L549.0,169.00L549.5,167.97L550.0,166.94L550.5,165.90L551.0,164.87L551.5,163.82L552.0,162.78L552.5,161.73L553.0,160.67L553.5,159.61L554.0,158.55L554.5,157.49L555.0,156.42L555.5,155.34L556.0,154.26L556.5,153.18L557.0,152.10L557.5,151.01L558.0,149.91L558.5,148.82L559.0,147.71L559.5,146.61L560.0,145.50L560.5,144.39L561.0,143.27L561.5,142.15L562.0,141.02L562.5,139.90L563.0,138.76L563.5,137.63L564.0,136.49L564.5,135.34L565.0,134.19L565.5,133.04L566.0,131.88L566.5,130.72L567.0,129.56L567.5,128.39L568.0,127.22L568.5,126.04L569.0,124.86L569.5,123.68L570.0,122.49L570.5,121.30L571.0,120.10L571.5,118.90L572.0,117.69L572.5,116.48L573.0,115.27L573.5,114.05L574.0,112.83L574.5,111.61L575.0,110.38L575.5,109.14L576.0,107.91L576.5,106.66L577.0,105.42L577.5,104.17L578.0,102.91L578.5,101.65L579.0,100.39L579.5,99.12L580.0,97.85L580.5,96.57L581.0,95.29L581.5,94.00L582.0,92.71L582.5,91.42L583.0,90.12L583.5,88.82L584.0,87.51L584.5,86.20L585.0,84.88L585.5,83.56L586.0,82.23L586.5,80.90L587.0,79.56L587.5,78.22L588.0,76.88L588.5,75.53L589.0,74.17L589.5,72.81L590.0,71.45L590.5,70.08L591.0,68.70L591.5,67.32L592.0,65.94L592.5,64.55L593.0,63.16L593.5,61.75L594.0,60.35L594.5,58.94L595.0,57.52L595.5,56.10L596.0,54.68L596.5,53.24L597.0,51.81L597.5,50.36L598.0,48.92L598.5,47.46L599.0,46.00L599.5,44.54L600.0,43.07L600.5,41.59L601.0,40.11L601.5,38.62L602.0,37.13L602.5,35.64L603.0,34.14L603.5,32.63L604.0,31.12L604.5,29.61L605.0,28.09L605.5,26.57" fill="none" stroke="#f20808" stroke-width="1.9" stroke-linejoin="round" stroke-linecap="butt"/>
<rect x="131.6" y="67.4" width="154.8" height="84" fill="#fff" stroke="#111" stroke-width="1.5"/>
<line x1="142.2" y1="89.2" x2="180.8" y2="89.2" stroke="#06f006" stroke-width="1.9"/>
<line x1="142.2" y1="109.6" x2="180.8" y2="109.6" stroke="#0606e0" stroke-width="1.9"/>
<line x1="142.2" y1="129.9" x2="180.8" y2="129.9" stroke="#f20808" stroke-width="1.9"/>
<text x="189.2" y="96.0" class="t" letter-spacing="0.15">1.5 x 10<tspan class="sup" dy="-8">-6</tspan><tspan dy="8"> M</tspan></text>
<text x="189.2" y="115.8" class="t" letter-spacing="0.15">5.5 x 10<tspan class="sup" dy="-8">-6</tspan><tspan dy="8"> M</tspan></text>
<text x="189.2" y="135.7" class="t" letter-spacing="0.15">2.0 x 10<tspan class="sup" dy="-8">-5</tspan><tspan dy="8"> M</tspan></text>
<text x="326" y="476.5" text-anchor="middle" class="b">E (V)</text>
<text transform="translate(16.1,240.4) rotate(-90)" class="b">I<tspan dx="0.6" dy="6.2" font-size="15.8">pa</tspan></text>
<text transform="translate(16.1,212.5) rotate(-90) scale(1.04,1)" class="b">(&#956;A)</text>
<text x="402.6" y="207.8" text-anchor="middle" class="b">BOS</text>
<path d="M400.6,214.3 L395.7,264.8 M390.5,236.5 L395.7,264.8 L405.7,238.3" fill="none" stroke="#111" stroke-width="1.1"/>
</svg>
</body></html>
